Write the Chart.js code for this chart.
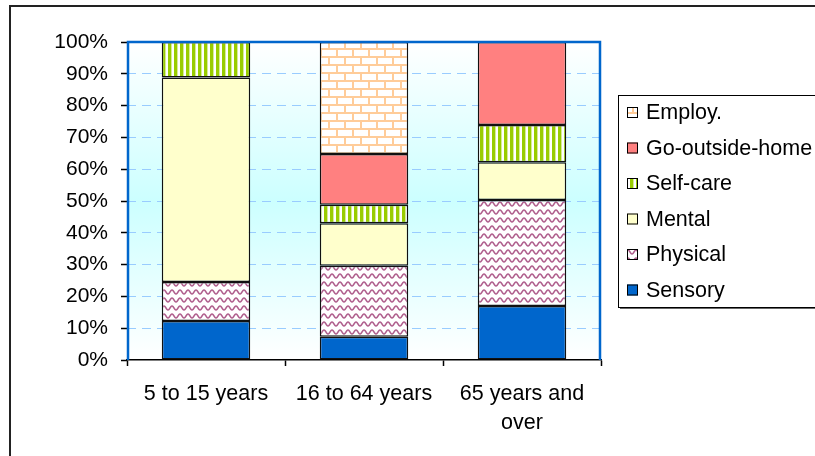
<!DOCTYPE html>
<html>
<head>
<meta charset="utf-8">
<script src="https://cdn.jsdelivr.net/npm/chart.js@4/dist/chart.umd.min.js"></script>
<style>
  html, body { margin: 0; padding: 0; background: #fff; }
  #chart { display: block; }
</style>
</head>
<body>
<canvas id="chart" width="815" height="456"></canvas>
<script>
// data (percent of each age group)
const categories = ["5 to 15 years", "16 to 64 years", ["65 years and", "over"]];
const sensory   = [12.3, 7.3, 17.0];
const physical  = [12.2, 22.3, 33.3];
const mental    = [64.3, 13.4, 11.9];
const selfCare  = [11.2, 5.8, 11.7];
const goOutside = [0, 16.0, 26.1];
const employ    = [0, 35.2, 0];
const seriesNames = ["Sensory", "Physical", "Mental", "Self-care", "Go-outside-home", "Employ."];

const FONT = "'Liberation Sans', Arial, sans-serif";

// small helper to build canvas fill patterns
function makePattern(w, h, draw) {
  const c = document.createElement("canvas");
  c.width = w;
  c.height = h;
  const g = c.getContext("2d");
  g.fillStyle = "#fff";
  g.fillRect(0, 0, w, h);
  draw(g);
  return document.getElementById("chart").getContext("2d").createPattern(c, "repeat");
}

const brick = makePattern(16, 16, (g) => {
  g.fillStyle = "#ffcc99";
  g.fillRect(0, 0, 16, 2);
  g.fillRect(0, 8, 16, 2);
  g.fillRect(0, 0, 2, 8);
  g.fillRect(8, 8, 2, 8);
});

const stripes = makePattern(6, 4, (g) => {
  g.fillStyle = "#99cc00";
  g.fillRect(0, 0, 3, 4);
  g.fillStyle = "#d6eb99";
  g.fillRect(3, 0, 1, 4);
});

const wave = makePattern(8, 8, (g) => {
  g.strokeStyle = "#b0608e";
  g.lineWidth = 1.5;
  g.beginPath();
  for (let x = -1; x <= 9; x += 0.5) {
    const y = 4 + 2 * Math.cos((2 * Math.PI * x) / 8);
    if (x === -1) g.moveTo(x, y);
    else g.lineTo(x, y);
  }
  g.stroke();
});

const fills = ["#0066cc", wave, "#ffffcc", stripes, "#ff8080", brick];
const values = [sensory, physical, mental, selfCare, goOutside, employ];

// ğŸ¨ background, plot frame, outer frame and legend
const decor = {
  id: "decor",
  beforeDraw(chart) {
    const { ctx, chartArea: a } = chart;
    ctx.save();
    ctx.fillStyle = "#fff";
    ctx.fillRect(0, 0, chart.width, chart.height);
    const g = ctx.createLinearGradient(0, a.top, 0, a.bottom);
    g.addColorStop(0, "#ffffff");
    g.addColorStop(0.5, "#ccffff");
    g.addColorStop(1, "#ffffff");
    ctx.fillStyle = g;
    ctx.fillRect(a.left, a.top, a.right - a.left, a.bottom - a.top);
    ctx.restore();
  },
  afterDraw(chart) {
    const { ctx, chartArea: a } = chart;
    ctx.save();

    // plot area border (blue, open at the bottom where the axis is)
    ctx.strokeStyle = "#0066cc";
    ctx.lineWidth = 2.5;
    ctx.beginPath();
    ctx.moveTo(a.left + 1, a.bottom);
    ctx.lineTo(a.left + 1, a.top);
    ctx.lineTo(a.right - 1, a.top);
    ctx.lineTo(a.right - 1, a.bottom);
    ctx.stroke();

    // outer chart frame
    ctx.strokeStyle = "#222";
    ctx.lineWidth = 2;
    ctx.beginPath();
    ctx.moveTo(10, chart.height);
    ctx.lineTo(10, 6);
    ctx.lineTo(chart.width, 6);
    ctx.stroke();

    // legend box
    const lx = 618, ly = 95, lw = 230, lh = 212;
    ctx.fillStyle = "#666";
    ctx.fillRect(lx + 2, ly + 2, lw, lh);
    ctx.fillStyle = "#fff";
    ctx.fillRect(lx, ly, lw, lh);
    ctx.strokeStyle = "#000";
    ctx.lineWidth = 1;
    ctx.strokeRect(lx + 0.5, ly + 0.5, lw, lh);

    ctx.font = "21.5px " + FONT;
    ctx.textBaseline = "middle";
    ctx.textAlign = "left";
    const order = [5, 4, 3, 2, 1, 0];
    order.forEach((di, i) => {
      const y = 112.5 + i * 35.5;
      const ds = chart.data.datasets[di];
      ctx.fillStyle = ds.backgroundColor;
      ctx.fillRect(627, y - 5.5, 11, 11);
      ctx.strokeStyle = "#000";
      ctx.lineWidth = 1;
      ctx.strokeRect(627.5, y - 5, 10, 10);
      ctx.fillStyle = "#000";
      ctx.fillText(ds.label, 646, y + 1);
    });
    ctx.restore();
  },
};

new Chart(document.getElementById("chart"), {
  type: "bar",
  data: {
    labels: categories,
    datasets: values.map((v, i) => ({
      label: seriesNames[i],
      data: v,
      backgroundColor: fills[i],
      borderColor: "#111",
      borderWidth: 1.5,
      borderSkipped: false,
      barPercentage: 0.56,
      categoryPercentage: 1.0,
    })),
  },
  options: {
    responsive: false,
    animation: false,
    layout: { padding: { left: 0, top: 42, right: 214, bottom: 0 } },
    plugins: { legend: { display: false }, tooltip: { enabled: false } },
    scales: {
      x: {
        stacked: true,
        grid: {
          offset: true,
          drawOnChartArea: false,
          tickLength: 6,
          tickColor: "#000",
          tickWidth: 1.5,
        },
        border: { color: "#000", width: 1.5 },
        ticks: {
          color: "#000",
          font: { family: FONT, size: 21.5, lineHeight: 1.37 },
          padding: 13,
          maxRotation: 0,
          autoSkip: false,
        },
        afterFit(s) {
          s.height = 96;
        },
      },
      y: {
        stacked: true,
        min: 0,
        max: 100,
        ticks: {
          stepSize: 10,
          callback: (v) => v + "%",
          color: "#000",
          font: { family: FONT, size: 21 },
          padding: 13,
        },
        grid: {
          color: (c) =>
            c.tick && (c.tick.value === 0 || c.tick.value === 100)
              ? "rgba(0,0,0,0)"
              : "#99ccff",
          lineWidth: 1,
          tickColor: "#000",
          tickLength: 6,
          tickWidth: 1.5,
          tickBorderDash: [],
        },
        border: { display: false, dash: [9, 6] },
        afterFit(s) {
          s.width = 127;
        },
      },
    },
  },
  plugins: [decor],
});
</script>
</body>
</html>
